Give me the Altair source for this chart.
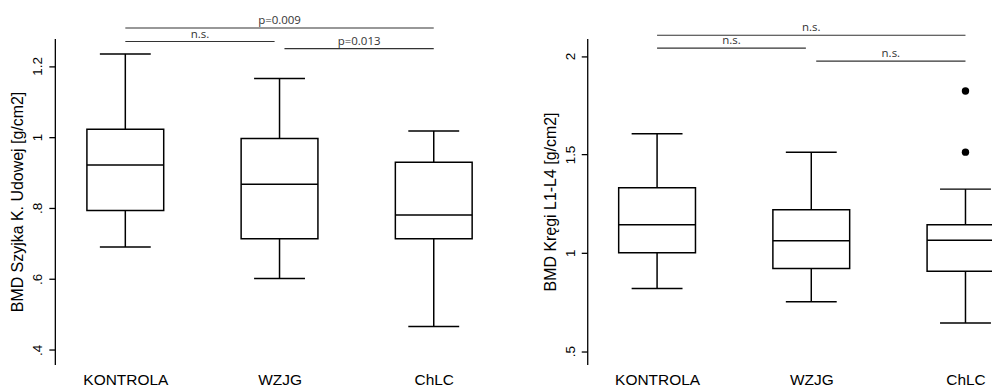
import altair as alt
import pandas as pd

groups = ["KONTROLA", "WZJG", "ChLC"]
positions = [1, 2, 3]

# Panel A: BMD Szyjka K. Udowej [g/cm2]
a_low = [0.690, 0.601, 0.466]
a_q1 = [0.793, 0.713, 0.713]
a_med = [0.921, 0.867, 0.780]
a_q3 = [1.022, 0.996, 0.929]
a_high = [1.234, 1.165, 1.017]
a_out_pos = []
a_out_val = []
a_ticks = [0.4, 0.6, 0.8, 1.0, 1.2]
a_tick_labels = [".4", ".6", ".8", "1", "1.2"]
a_ann_x1 = [1, 1, 2.032]
a_ann_x2 = [3, 1.968, 3]
a_ann_y = [1.307, 1.269, 1.249]
a_ann_text = ["p=0.009", "n.s.", "p=0.013"]

# Panel B: BMD Kręgi L1-L4 [g/cm2]
b_low = [0.819, 0.752, 0.644]
b_q1 = [1.000, 0.920, 0.907]
b_med = [1.143, 1.062, 1.064]
b_q3 = [1.331, 1.219, 1.143]
b_high = [1.606, 1.512, 1.324]
b_out_pos = [3, 3]
b_out_val = [1.823, 1.512]
b_ticks = [0.5, 1.0, 1.5, 2.0]
b_tick_labels = [".5", "1", "1.5", "2"]
b_ann_x1 = [1, 1, 2.032]
b_ann_x2 = [3, 1.965, 3]
b_ann_y = [2.106, 2.041, 1.975]
b_ann_text = ["n.s.", "n.s.", "n.s."]

FONT = "Liberation Sans"
BOX_HALF = 0.249
CAP_HALF = 0.165


def label_expr(vals, labels):
    expr = "''"
    for v, l in zip(vals, labels):
        expr = f"abs(datum.value - {v}) < 0.000001 ? '{l}' : ({expr})"
    return expr


def panel(low, q1, med, q3, high, out_pos, out_val, ticks, tick_labels,
          ann_x1, ann_x2, ann_y, ann_text, ytitle, xdomain, ydomain, width):
    df = pd.DataFrame({"group": groups, "pos": positions, "low": low, "q1": q1,
                       "med": med, "q3": q3, "high": high})
    df["bl"] = df["pos"] - BOX_HALF
    df["br"] = df["pos"] + BOX_HALF
    df["cl"] = df["pos"] - CAP_HALF
    df["cr"] = df["pos"] + CAP_HALF
    xs = alt.Scale(domain=xdomain, nice=False, zero=False)
    ys = alt.Scale(domain=ydomain, nice=False, zero=False)
    base = alt.Chart(df)
    xaxis = alt.Axis(values=positions, labelExpr=label_expr(positions, groups),
                     domain=False, ticks=False, grid=False, title=None,
                     labelFont=FONT, labelFontSize=15.5, labelColor="black",
                     labelPadding=8)
    yaxis = alt.Axis(values=ticks, labelExpr=label_expr(ticks, tick_labels),
                     title=ytitle, grid=False, labelAngle=270, labelAlign="center",
                     labelBaseline="bottom", labelFont=FONT, labelFontSize=13.5,
                     labelColor="black", labelPadding=4, tickSize=6,
                     tickColor="black", tickWidth=1.3, domainColor="black",
                     domainWidth=1.3, titleFont=FONT, titleFontSize=16,
                     titleFontWeight="normal", titleColor="black", titlePadding=5)
    sw = 1.5
    lw = base.mark_rule(color="black", strokeWidth=sw).encode(
        x=alt.X("pos:Q", scale=xs, axis=xaxis),
        y=alt.Y("low:Q", scale=ys, axis=yaxis), y2="q1:Q")
    hw = base.mark_rule(color="black", strokeWidth=sw).encode(
        x="pos:Q", y="q3:Q", y2="high:Q")
    lc = base.mark_rule(color="black", strokeWidth=sw).encode(
        x="cl:Q", x2="cr:Q", y="low:Q")
    hc = base.mark_rule(color="black", strokeWidth=sw).encode(
        x="cl:Q", x2="cr:Q", y="high:Q")
    box = base.mark_rect(fill="white", stroke="black", strokeWidth=sw, clip=True).encode(
        x="bl:Q", x2="br:Q", y="q1:Q", y2="q3:Q")
    md = base.mark_rule(color="black", strokeWidth=sw, clip=True).encode(
        x="bl:Q", x2="br:Q", y="med:Q")
    layers = [lw, hw, lc, hc, box, md]
    if out_pos:
        od = pd.DataFrame({"pos": out_pos, "val": out_val})
        layers.append(alt.Chart(od).mark_circle(color="black", opacity=1, size=55).encode(
            x="pos:Q", y="val:Q"))
    ad = pd.DataFrame({"x1": ann_x1, "x2": ann_x2, "y": ann_y, "t": ann_text})
    ad["mid"] = (ad["x1"] + ad["x2"]) / 2
    ab = alt.Chart(ad)
    layers.append(ab.mark_rule(color="#333333", strokeWidth=1.2).encode(
        x="x1:Q", x2="x2:Q", y="y:Q"))
    layers.append(ab.mark_text(font="Open Sans", fontSize=11.5, color="#333333",
                               baseline="alphabetic", dy=-4).encode(
        x="mid:Q", y="y:Q", text="t:N"))
    return alt.layer(*layers).properties(width=width, height=327)


left = panel(a_low, a_q1, a_med, a_q3, a_high, a_out_pos, a_out_val, a_ticks,
             a_tick_labels, a_ann_x1, a_ann_x2, a_ann_y, a_ann_text,
             "BMD Szyjka K. Udowej [g/cm2]", [0.543, 3.297], [0.359, 1.2775], 426)
right = panel(b_low, b_q1, b_med, b_q3, b_high, b_out_pos, b_out_val, b_ticks,
              b_tick_labels, b_ann_x1, b_ann_x2, b_ann_y, b_ann_text,
              "BMD Kręgi L1-L4 [g/cm2]", [0.547, 3.172], [0.4327, 2.0897], 406)

chart = alt.hconcat(left, right, spacing=63).properties(
    padding={"left": 10, "top": 14, "right": 0, "bottom": 0},
    background="white",
).configure_view(stroke=None)

chart.save("out.html", embed_options={"renderer": "svg", "actions": False})
